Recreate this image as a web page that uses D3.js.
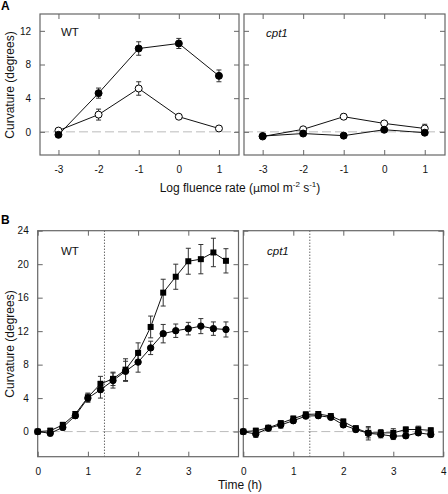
<!DOCTYPE html>
<html><head><meta charset="utf-8">
<script src="https://cdn.jsdelivr.net/npm/d3@7"></script>
<style>body{margin:0;background:#fff}svg{display:block;font-family:"Liberation Sans",Arial,sans-serif}</style>
</head><body><svg id="c" width="448" height="494"></svg>
<script>
// ---- Panel A data ----
const logFluence = [-3, -2, -1, 0, 1];
const aWTFilled = [-0.35, 4.6, 9.9, 10.5, 6.65];
const aWTFilledErr = [0.3, 0.6, 0.8, 0.6, 0.7];
const aWTOpen = [0.15, 2.05, 5.15, 1.8, 0.4];
const aWTOpenErr = [0.2, 0.65, 0.8, 0.2, 0.15];
const aCptFilled = [-0.5, -0.2, -0.45, 0.25, -0.1];
const aCptFilledErr = [0.2, 0.2, 0.3, 0.2, 0.2];
const aCptOpen = [-0.55, 0.3, 1.8, 1.0, 0.4];
const aCptOpenErr = [0.2, 0.2, 0.3, 0.2, 0.5];
const aYTicks = [0, 4, 8, 12];
// ---- Panel B data ----
const timeH = [0, 0.25, 0.5, 0.75, 1, 1.25, 1.5, 1.75, 2, 2.25, 2.5, 2.75, 3, 3.25, 3.5, 3.75];
const bWTSquare = [0, 0.1, 0.8, 2.1, 4.1, 5.7, 6.3, 7.4, 9.4, 12.5, 16.6, 18.5, 20.35, 20.6, 21.4, 20.4];
const bWTSquareErr = [0.2, 0.3, 0.3, 0.3, 0.5, 0.9, 0.8, 1.3, 1.2, 1.3, 1.6, 1.5, 1.55, 1.75, 1.7, 1.45];
const bWTCircle = [0, -0.2, 0.5, 1.9, 4.0, 5.0, 6.1, 7.2, 8.3, 10.0, 11.7, 12.05, 12.3, 12.6, 12.3, 12.2];
const bWTCircleErr = [0.2, 0.3, 0.3, 0.3, 0.5, 1.0, 0.9, 1.2, 1.2, 0.8, 1.1, 0.8, 0.75, 0.9, 0.8, 0.9];
const bCptSquare = [0, 0.1, 0.45, 1.0, 1.55, 2.05, 2.1, 1.85, 1.2, 0.4, -0.15, -0.15, -0.15, 0.25, 0.25, 0.15];
const bCptSquareErr = [0.1, 0.3, 0.3, 0.3, 0.3, 0.3, 0.3, 0.3, 0.3, 0.3, 0.6, 0.4, 0.5, 0.3, 0.4, 0.3];
const bCptCircle = [0, -0.3, 0.4, 0.8, 1.3, 1.85, 1.9, 1.7, 0.8, 0.25, -0.2, -0.35, -0.55, -0.5, -0.15, -0.35];
const bCptCircleErr = [0.1, 0.4, 0.3, 0.4, 0.3, 0.3, 0.3, 0.2, 0.3, 0.3, 0.8, 0.4, 0.4, 0.3, 0.3, 0.3];
const bYTicks = [0, 4, 8, 12, 16, 20, 24];
const bXTicksLeft = [0, 1, 2, 3];
const bXTicksRight = [0, 1, 2, 3, 4];
const lightOnTime = 1.33;

const svg = d3.select("#c");
const frameColor = "#666";
const fmt = d => String(d); // plain hyphen minus like the original

function panel(opt) {
  const g = svg.append("g");
  const x = d3.scaleLinear().domain(opt.xd).range([opt.x0, opt.x1]);
  const y = d3.scaleLinear().domain(opt.yd).range([opt.y1, opt.y0]);
  g.append("line").attr("x1", opt.x0).attr("x2", opt.x1).attr("y1", y(0)).attr("y2", y(0))
    .attr("stroke", "#bbb").attr("stroke-width", 1).attr("stroke-dasharray", "9,4");
  if (opt.vline != null) {
    g.append("line").attr("x1", x(opt.vline)).attr("x2", x(opt.vline)).attr("y1", opt.y0).attr("y2", opt.y1)
      .attr("stroke", "#222").attr("stroke-width", 1).attr("stroke-dasharray", "1,2");
  }
  const tl = 5;
  const bottom = d3.axisBottom(x).tickValues(opt.xt).tickSize(-tl).tickPadding(tl + 6).tickFormat(fmt);
  const top = d3.axisTop(x).tickValues(opt.xt).tickSize(-tl).tickFormat("");
  const left = d3.axisLeft(y).tickValues(opt.yt).tickSize(-tl).tickPadding(tl + 4).tickFormat(fmt);
  const right = d3.axisRight(y).tickValues(opt.yt).tickSize(-tl).tickFormat("");
  const ab = g.append("g").attr("transform", `translate(0,${opt.y1})`).call(bottom);
  const at = g.append("g").attr("transform", `translate(0,${opt.y0})`).call(top);
  const al = g.append("g").attr("transform", `translate(${opt.x0},0)`).call(left);
  const ar = g.append("g").attr("transform", `translate(${opt.x1},0)`).call(right);
  [ab, at, al, ar].forEach(a => {
    a.select(".domain").remove();
    a.selectAll(".tick line").attr("stroke", frameColor);
    a.selectAll("text").attr("font-size", 10).attr("fill", "#111").attr("font-family", '"Liberation Sans",Arial,sans-serif');
  });
  if (!opt.yLabels) al.selectAll("text").remove();
  g.append("rect").attr("x", opt.x0).attr("y", opt.y0).attr("width", opt.x1 - opt.x0).attr("height", opt.y1 - opt.y0)
    .attr("fill", "none").attr("stroke", frameColor).attr("stroke-width", 1.2);
  opt.series.forEach(s => {
    const pts = opt.xs.map((xv, i) => ({ x: xv, y: s.v[i], e: s.e[i] }));
    g.append("path").datum(pts).attr("fill", "none").attr("stroke", "#111").attr("stroke-width", 1)
      .attr("d", d3.line().x(d => x(d.x)).y(d => y(d.y)));
    const eb = g.append("g").attr("stroke", "#333").attr("stroke-width", 1);
    pts.forEach(d => {
      const cx = x(d.x), yt = y(d.y + d.e), yb = y(d.y - d.e);
      eb.append("line").attr("x1", cx).attr("x2", cx).attr("y1", yt).attr("y2", yb);
      eb.append("line").attr("x1", cx - 2.5).attr("x2", cx + 2.5).attr("y1", yt).attr("y2", yt);
      eb.append("line").attr("x1", cx - 2.5).attr("x2", cx + 2.5).attr("y1", yb).attr("y2", yb);
    });
  });
  opt.series.forEach(s => {
    const pts = opt.xs.map((xv, i) => ({ x: xv, y: s.v[i] }));
    if (s.shape === "square") {
      g.selectAll(null).data(pts).enter().append("rect")
        .attr("x", d => x(d.x) - 3).attr("y", d => y(d.y) - 3).attr("width", 6).attr("height", 6)
        .attr("fill", "#000");
    } else {
      g.selectAll(null).data(pts).enter().append("circle")
        .attr("cx", d => x(d.x)).attr("cy", d => y(d.y)).attr("r", s.r)
        .attr("fill", s.fill).attr("stroke", "#000").attr("stroke-width", 1);
    }
  });
  g.append("text").attr("x", opt.labelX).attr("y", opt.labelY).attr("font-size", 11.5)
    .attr("font-style", opt.italic ? "italic" : "normal").attr("fill", "#111").text(opt.label);
  return { x, y };
}

const aYd = [-2.75, 14], aXd = [-3.46, 1.5];
panel({ x0: 40, x1: 239, y0: 14, y1: 155, xd: aXd, yd: aYd, xt: logFluence, yt: aYTicks, yLabels: true,
  xs: logFluence, label: "WT", labelX: 61, labelY: 36,
  series: [
    { v: aWTOpen, e: aWTOpenErr, fill: "#fff", r: 3.5 },
    { v: aWTFilled, e: aWTFilledErr, fill: "#000", r: 3.5 }
  ] });
panel({ x0: 244, x1: 445, y0: 14, y1: 155, xd: aXd, yd: aYd, xt: logFluence, yt: aYTicks, yLabels: false,
  xs: logFluence, label: "cpt1", italic: true, labelX: 266, labelY: 37,
  series: [
    { v: aCptOpen, e: aCptOpenErr, fill: "#fff", r: 3.5 },
    { v: aCptFilled, e: aCptFilledErr, fill: "#000", r: 3.5 }
  ] });

const bYd = [-3, 24], bXd = [0, 4];
panel({ x0: 37.7, x1: 238.5, y0: 230.7, y1: 456.7, xd: bXd, yd: bYd, xt: bXTicksLeft, yt: bYTicks, yLabels: true,
  xs: timeH, vline: lightOnTime, label: "WT", labelX: 61, labelY: 255,
  series: [
    { v: bWTCircle, e: bWTCircleErr, fill: "#000", r: 3.2 },
    { v: bWTSquare, e: bWTSquareErr, shape: "square" }
  ] });
panel({ x0: 243.3, x1: 443.3, y0: 230.7, y1: 456.7, xd: bXd, yd: bYd, xt: bXTicksRight, yt: bYTicks, yLabels: false,
  xs: timeH, vline: lightOnTime, label: "cpt1", italic: true, labelX: 267, labelY: 255,
  series: [
    { v: bCptCircle, e: bCptCircleErr, fill: "#000", r: 3.2 },
    { v: bCptSquare, e: bCptSquareErr, shape: "square" }
  ] });

svg.append("text").attr("x", 1).attr("y", 10).attr("font-size", 12).attr("font-weight", "bold").text("A");
svg.append("text").attr("x", 1).attr("y", 224).attr("font-size", 12).attr("font-weight", "bold").text("B");

const xt1 = svg.append("text").attr("x", 240).attr("y", 192).attr("text-anchor", "middle").attr("font-size", 12).attr("fill", "#111");
xt1.append("tspan").text("Log fluence rate (");
xt1.append("tspan").attr("font-family", '"DejaVu Sans",sans-serif').attr("font-size", 11).text("μ");
xt1.append("tspan").text("mol m");
xt1.append("tspan").attr("dy", -5).attr("font-size", 8).text("-2");
xt1.append("tspan").attr("dy", 5).text(" s");
xt1.append("tspan").attr("dy", -5).attr("font-size", 8).text("-1");
xt1.append("tspan").attr("dy", 5).text(")");

svg.append("text").attr("x", 240).attr("y", 489).attr("text-anchor", "middle").attr("font-size", 12).attr("fill", "#111").text("Time (h)");

svg.append("text").attr("transform", "translate(14,85) rotate(-90)").attr("text-anchor", "middle").attr("font-size", 12).attr("fill", "#111").text("Curvature (degrees)");
svg.append("text").attr("transform", "translate(14,344) rotate(-90)").attr("text-anchor", "middle").attr("font-size", 12).attr("fill", "#111").text("Curvature (degrees)");
</script></body></html>
